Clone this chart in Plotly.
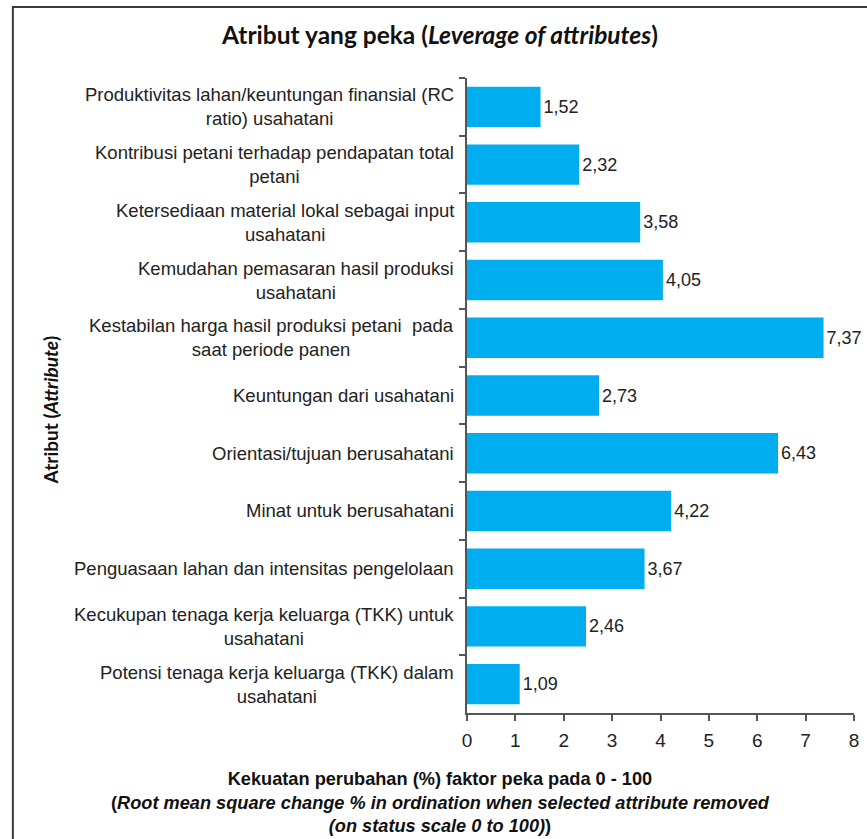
import plotly.graph_objects as go

categories = [
    "Produktivitas lahan/keuntungan finansial (RC<br>ratio) usahatani",
    "Kontribusi petani terhadap pendapatan total<br>petani",
    "Ketersediaan material lokal sebagai input<br>usahatani",
    "Kemudahan pemasaran hasil produksi<br>usahatani",
    "Kestabilan harga hasil produksi petani  pada<br>saat periode panen",
    "Keuntungan dari usahatani",
    "Orientasi/tujuan berusahatani",
    "Minat untuk berusahatani",
    "Penguasaan lahan dan intensitas pengelolaan",
    "Kecukupan tenaga kerja keluarga (TKK) untuk<br>usahatani",
    "Potensi tenaga kerja keluarga (TKK) dalam<br>usahatani",
]
values = [1.52, 2.32, 3.58, 4.05, 7.37, 2.73, 6.43, 4.22, 3.67, 2.46, 1.09]
x_ticks = [0, 1, 2, 3, 4, 5, 6, 7, 8]

title_text = "Atribut yang peka (<i>Leverage of attributes</i>)"
y_title = "Atribut (<i>Attribute</i>)"
x_title = ("Kekuatan perubahan (%) faktor peka pada 0 - 100<br>"
           "(<i>Root mean square change % in ordination when selected attribute removed</i><br>"
           "<i>(on status scale 0 to 100)</i>)")

labels = [f"{v:.2f}".replace(".", ",") for v in values]
ids = list(range(len(categories)))

W, H = 867, 839
ML, MR, MT, MB = 467, 8, 78, 126
PW = W - ML - MR
PH = H - MT - MB

def px_x(px):
    return (px - ML) / PW

def px_y(py):
    return (H - MB - py) / PH

ARIAL = "Liberation Sans, Arial"

fig = go.Figure(go.Bar(
    x=values, y=ids, orientation="h",
    marker=dict(color="#00AEEF", line=dict(width=0)),
    width=0.7,
    text=labels, textposition="outside",
    textfont=dict(family=ARIAL, size=18, color="#222222"),
    cliponaxis=False,
    hoverinfo="skip",
))

annotations = []
for i, c in enumerate(categories):
    annotations.append(dict(
        x=0, y=i, xref="paper", yref="y", text=c, showarrow=False,
        xanchor="right", yanchor="middle", align="center", xshift=-11,
        font=dict(family=ARIAL, size=18.5, color="#222222"),
    ))

annotations.append(dict(
    x=px_x(440), y=0, xref="paper", yref="paper", text="<b>" + x_title + "</b>", showarrow=False,
    xanchor="center", yanchor="top", yshift=-54, align="center",
    font=dict(family=ARIAL, size=18.2, color="#111111"),
))
annotations.append(dict(
    x=px_x(45), y=px_y(410), xref="paper", yref="paper", text="<b>" + y_title + "</b>",
    showarrow=False, textangle=-90, xanchor="center", yanchor="middle",
    font=dict(family="Lato, Open Sans", size=19, color="#111111"),
))

fig.update_layout(
    width=W, height=H,
    margin=dict(l=ML, r=MR, t=MT, b=MB, pad=0),
    paper_bgcolor="white", plot_bgcolor="white",
    showlegend=False,
    title=dict(text="<b>" + title_text + "</b>", x=440 / W, xanchor="center",
               xref="container", y=1 - 35 / H, yanchor="middle", yref="container",
               font=dict(family="Lato, Open Sans", size=24.5, color="#111111")),
    annotations=annotations,
    shapes=[dict(type="rect", xref="paper", yref="paper",
                 x0=px_x(7), x1=px_x(1000), y0=px_y(1000), y1=px_y(7),
                 line=dict(color="#3a3a3a", width=2), fillcolor="rgba(0,0,0,0)", layer="above")],
)

fig.update_xaxes(range=[0, 8], tickvals=x_ticks, ticks="outside", ticklen=6, tickwidth=1.5,
                 tickcolor="#555555", showline=True, linecolor="#555555", linewidth=1.5,
                 showgrid=False, zeroline=False, ticklabelstandoff=3,
                 tickfont=dict(family=ARIAL, size=19, color="#222222"))
fig.update_yaxes(type="linear", range=[len(categories) - 0.5, -0.5],
                 tickvals=[i + 0.5 for i in ids[:-1]] + [-0.5],
                 ticks="outside", ticklen=6, tickwidth=1.5, tickcolor="#555555",
                 showticklabels=False, showline=True, linecolor="#555555", linewidth=1.5,
                 showgrid=False, zeroline=False)

fig.write_html("out.html", config={"displayModeBar": False},
               post_script="document.body.style.margin='0';")
